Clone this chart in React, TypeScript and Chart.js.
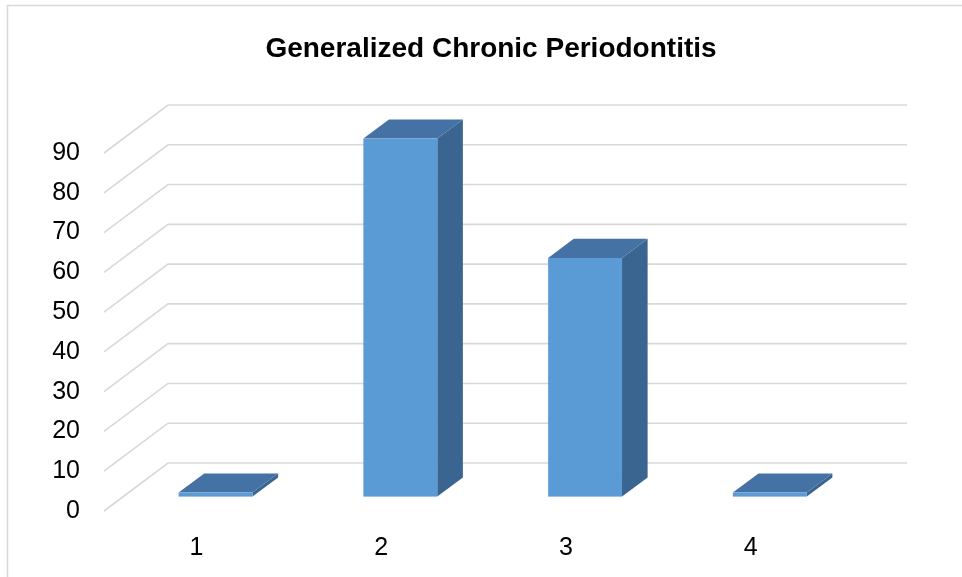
import React, { useEffect, useRef } from 'react';
import { Chart, registerables } from 'chart.js';

Chart.register(...registerables);

const TITLE = 'Generalized Chronic Periodontitis';
const categories = ['1', '2', '3', '4'];
const values = [1, 90, 60, 1];
const yMin = 0;
const yMax = 90;
const yStep = 10;

// perspective of the 3D floor/wall
const DX = 64;
const DY = 48;
const D0 = 0.3; // bar front depth fraction
const D1 = 0.7; // bar back depth fraction

const FRONT = '#5B9BD5';
const TOP = '#4472A4';
const SIDE = '#3A6590';
const GRID = '#D9D9D9';
const FONT = 'Liberation Sans';

export default function App() {
  const ref = useRef<HTMLCanvasElement>(null);

  useEffect(() => {
    document.body.style.margin = '0';
    const ctx = ref.current!.getContext('2d')!;

    const framePlugin = {
      id: 'frame',
      beforeDraw(chart: any) {
        const c = chart.ctx;
        c.save();
        c.fillStyle = '#fff';
        c.fillRect(0, 0, chart.width, chart.height);
        c.strokeStyle = GRID;
        c.lineWidth = 1.5;
        c.beginPath();
        c.moveTo(7.5, chart.height);
        c.lineTo(7.5, 5.5);
        c.lineTo(chart.width, 5.5);
        c.stroke();
        c.restore();
      },
    };

    const gridPlugin = {
      id: 'grid3d',
      beforeDatasetsDraw(chart: any) {
        const c = chart.ctx;
        const ys = chart.scales.y;
        const area = chart.chartArea;
        c.save();
        c.strokeStyle = GRID;
        c.lineWidth = 1.6;
        ys.ticks.forEach((t: any) => {
          const py = ys.getPixelForValue(t.value);
          c.beginPath();
          c.moveTo(area.left, py);
          c.lineTo(area.left + DX, py - DY);
          c.lineTo(area.right + DX, py - DY);
          c.stroke();
        });
        c.restore();
      },
    };

    const barsPlugin = {
      id: 'bars3d',
      afterDatasetsDraw(chart: any) {
        const c = chart.ctx;
        const meta = chart.getDatasetMeta(0);
        const ddx = (D1 - D0) * DX;
        const ddy = (D1 - D0) * DY;
        c.save();
        meta.data.forEach((el: any) => {
          const x0 = el.x - el.width / 2 + D0 * DX;
          const x1 = el.x + el.width / 2 + D0 * DX;
          const yt = el.y - D0 * DY;
          const yb = el.base - D0 * DY;
          // side face
          c.fillStyle = SIDE;
          c.beginPath();
          c.moveTo(x1, yt);
          c.lineTo(x1 + ddx, yt - ddy);
          c.lineTo(x1 + ddx, yb - ddy);
          c.lineTo(x1, yb);
          c.closePath();
          c.fill();
          // top face
          c.fillStyle = TOP;
          c.beginPath();
          c.moveTo(x0, yt);
          c.lineTo(x1, yt);
          c.lineTo(x1 + ddx, yt - ddy);
          c.lineTo(x0 + ddx, yt - ddy);
          c.closePath();
          c.fill();
          // front face
          c.fillStyle = FRONT;
          c.fillRect(x0, yt, x1 - x0, yb - yt);
        });
        c.restore();
      },
    };

    const titlePlugin = {
      id: 'titleText',
      afterDraw(chart: any) {
        const c = chart.ctx;
        c.save();
        c.font = `bold 28px "${FONT}"`;
        c.fillStyle = '#000';
        c.textAlign = 'center';
        c.textBaseline = 'alphabetic';
        c.fillText(TITLE, 491, 57);
        c.restore();
      },
    };

    const chart = new Chart(ctx, {
      type: 'bar',
      data: {
        labels: categories,
        datasets: [
          {
            data: values,
            backgroundColor: 'rgba(0,0,0,0)',
            borderWidth: 0,
            barPercentage: 0.4,
            categoryPercentage: 1,
          },
        ],
      },
      options: {
        responsive: false,
        animation: false,
        devicePixelRatio: 1,
        layout: { padding: { left: 0, right: 119, top: 153, bottom: 0 } },
        plugins: {
          legend: { display: false },
          title: { display: false },
          tooltip: { enabled: false },
        },
        scales: {
          x: {
            grid: { display: false, drawTicks: false },
            border: { display: false },
            ticks: { font: { family: FONT, size: 25 }, color: '#000', padding: 22 },
            afterFit(s: any) {
              s.height = 66;
            },
          },
          y: {
            min: yMin,
            max: yMax,
            ticks: { stepSize: yStep, font: { family: FONT, size: 25 }, color: '#000', padding: 24 },
            grid: { display: false, drawTicks: false },
            border: { display: false },
            afterFit(s: any) {
              s.width = 104;
            },
          },
        },
      },
      plugins: [framePlugin, gridPlugin, barsPlugin, titlePlugin],
    } as any);

    return () => chart.destroy();
  }, []);

  return <canvas ref={ref} width={962} height={577} style={{ display: 'block' }} />;
}
